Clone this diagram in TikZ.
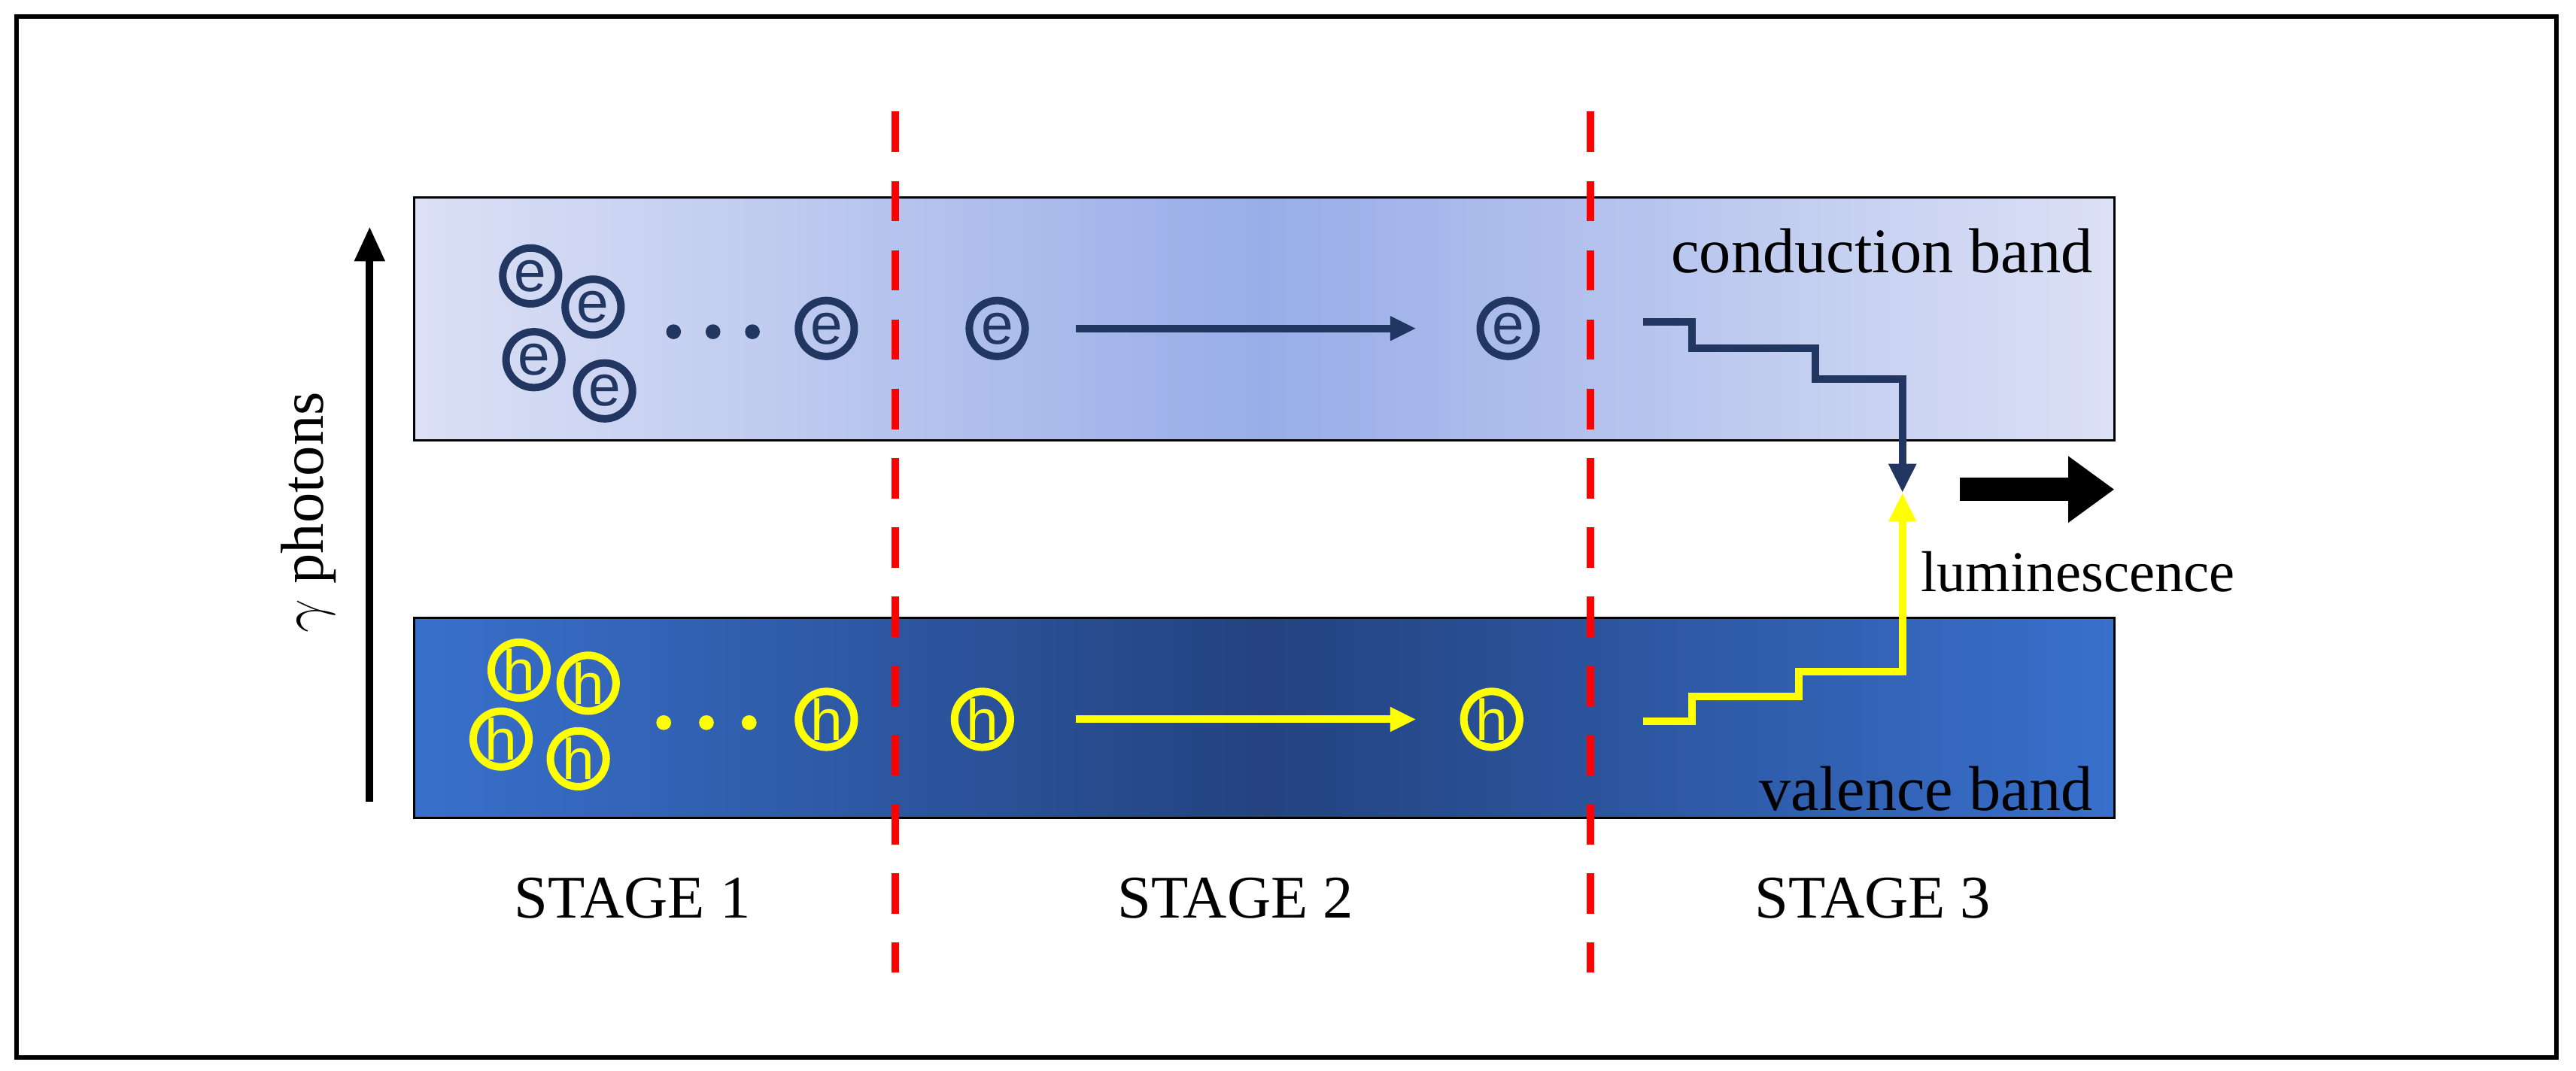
\documentclass[tikz,border=0pt]{standalone}
\usepackage{fontspec}
\setmainfont{Liberation Serif}
\newfontfamily\lettersans{Liberation Sans}
\usetikzlibrary{arrows.meta}
\definecolor{cbedge}{rgb}{0.86,0.88,0.96}
\definecolor{cbmid}{rgb}{0.60,0.68,0.91}
\definecolor{vbedge}{rgb}{0.22,0.44,0.80}
\definecolor{vbmid}{rgb}{0.14,0.26,0.50}
\definecolor{edark}{rgb}{0.13,0.21,0.38}
\definecolor{hyel}{rgb}{1.00,1.00,0.00}
\tikzset{
  elec/.style={circle, draw=edark, line width=2.6pt, text=edark, inner sep=0pt, minimum size=0.68cm, font=\lettersans\fontsize{20}{20}\selectfont},
  hole/.style={circle, draw=hyel, line width=2.6pt, text=hyel, inner sep=0pt, minimum size=0.68cm, font=\lettersans\fontsize{20}{20}\selectfont},
  stage/.style={font=\fontsize{21}{21}\selectfont},
  sep/.style={red, line width=2.5pt, dash pattern=on 14pt off 10pt}
}
\begin{document}
\begin{tikzpicture}[x=0.02cm, y=-0.02cm]
\useasboundingbox (0,0) rectangle (1568,652);
\draw[line width=1.5pt] (10,10) rectangle (1556,644);

% bands
\shade[left color=cbedge, right color=cbedge, middle color=cbmid] (252,120) rectangle (1287,268);
\draw[line width=0.8pt] (252,120) rectangle (1287,268);
\shade[left color=vbedge, right color=vbedge, middle color=vbmid] (252,376) rectangle (1287,498);
\draw[line width=0.8pt] (252,376) rectangle (1287,498);
\node[anchor=east, font=\fontsize{22}{22}\selectfont] (cblabel) at (1280,153) {conduction band};
\node[anchor=east, font=\fontsize{22}{22}\selectfont] (vblabel) at (1280,480) {valence band};

% stage separators
\draw[sep] (545,68) -- (545,592);
\draw[sep] (968,68) -- (968,592);
\node[stage] (stage1) at (385,547) {STAGE 1};
\node[stage] (stage2) at (752,547) {STAGE 2};
\node[stage] (stage3) at (1140,547) {STAGE 3};

% gamma photons
\coordinate (gbot) at (225,488);
\coordinate (gtop) at (225,138);
\draw[line width=2.6pt, -{Triangle[length=12pt,width=10pt]}] (gbot) -- (gtop);
\node[rotate=90, font=\fontsize{21}{21}\selectfont] (gamma) at (188,312) {$\gamma$ photons};

% electrons
\node[elec] (e1) at (323,168) {e};
\node[elec] (e2) at (361,187) {e};
\node[elec] (e3) at (325,219) {e};
\node[elec] (e4) at (368,238) {e};
\foreach \x in {410,434,458} \fill[edark] (\x,202) circle (4.5);
\node[elec] (e5) at (503,200) {e};
\node[elec] (e6) at (607,200) {e};
\node[elec] (e7) at (918,200) {e};
\draw[edark, line width=2.6pt, -{Triangle[length=9pt,width=8pt]}] (655,200) -- (862,200);

% holes
\node[hole] (h1) at (316,408) {h};
\node[hole] (h2) at (358,416) {h};
\node[hole] (h3) at (305,450) {h};
\node[hole] (h4) at (352,462) {h};
\foreach \x in {404,430,456} \fill[hyel] (\x,440) circle (4.5);
\node[hole] (h5) at (503,438) {h};
\node[hole] (h6) at (598,438) {h};
\node[hole] (h7) at (908,438) {h};
\draw[hyel, line width=2.6pt, -{Triangle[length=9pt,width=8pt]}] (655,438) -- (862,438);

% recombination
\coordinate (meet) at (1158,300);
\draw[edark, line width=2.6pt, -{Triangle[length=10pt,width=9pt]}] (1000,196) -- (1030,196) -- (1030,212) -- (1105,212) -- (1105,231) -- (1158,231) -- (meet);
\draw[hyel, line width=2.6pt, -{Triangle[length=10pt,width=9pt]}] (1000,439) -- (1030,439) -- (1030,424) -- (1095,424) -- (1095,409) -- (1158,409) -- (meet);
\coordinate (lstart) at (1193,298);
\coordinate (lend) at (1287,298);
\draw[line width=8pt, -{Triangle[length=16pt,width=22pt]}] (lstart) -- (lend);
\node[anchor=west, font=\fontsize{20}{20}\selectfont] (lum) at (1163,348) {luminescence};
\end{tikzpicture}
\end{document}
